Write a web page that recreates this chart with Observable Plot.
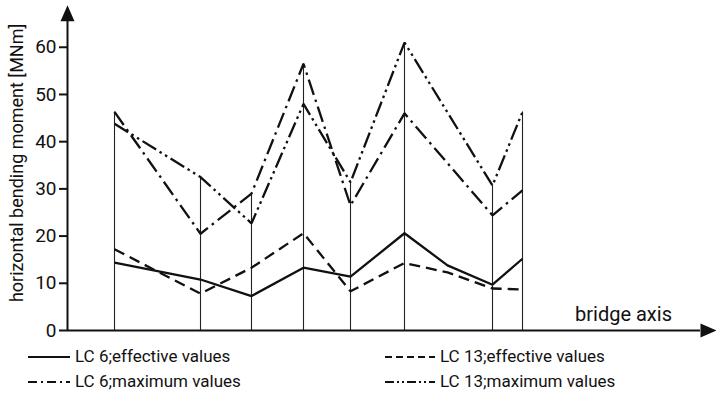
<!DOCTYPE html>
<html>
<head>
<meta charset="utf-8">
<script src="https://cdn.jsdelivr.net/npm/d3@7"></script>
<script src="https://cdn.jsdelivr.net/npm/@observablehq/plot@0.6"></script>
<style>
  html, body { margin: 0; padding: 0; background: #fff; }
  body { width: 716px; height: 398px; overflow: hidden; font-family: Roboto, "DejaVu Sans", sans-serif; }
  #legend { position: relative; height: 58px; font-size: 17px; color: #111; }
  .item { position: absolute; display: flex; align-items: center; }
  .item svg { margin-right: 5px; }
</style>
</head>
<body>
<div id="chart"></div>
<div id="legend"></div>
<script>
// positions along the bridge axis (arbitrary units)
const stations = [47, 133, 184, 236, 283, 337, 380, 425, 455];
const piers    = [47, 133, 184, 236, 283, 337, 425, 455];
// horizontal bending moment [MNm]
const lc6Effective  = [14.4, 10.8, 7.3, 13.3, 11.4, 20.6, 13.8, 9.7, 15.2];
const lc13Effective = [17.2, 7.8, 13.3, 20.6, 8.3, 14.3, 12.3, 8.9, 8.7];
const lc6Maximum    = [46.3, 20.5, 29.0, 56.5, 26.5, 46.0, null, 24.4, 29.7];
const lc13Maximum   = [43.8, 32.5, 22.7, 48.0, 31.4, 61.0, null, 30.7, 46.3];
const yTicks = [0, 10, 20, 30, 40, 50, 60];
const seriesNames = ["LC 6;effective values", "LC 13;effective values", "LC 6;maximum values", "LC 13;maximum values"];
const dashes = [null, "11,6", "16,5,2.5,5", "16,4,2.5,4,2.5,4"];
const legendDashes = [null, "7,4", "9,4,2,4", "9,3,2,3,2,3"];

const allSeries = [lc6Effective, lc13Effective, lc6Maximum, lc13Maximum];
const rows = [];
allSeries.forEach((vals, i) => {
  vals.forEach((v, j) => { if (v != null) rows.push({series: seriesNames[i], x: stations[j], y: v}); });
});
const pierRows = piers.map(p => {
  const j = stations.indexOf(p);
  return {x: p, top: d3.max(allSeries, s => s[j])};
});

const arrowSym = { draw(ctx) { ctx.moveTo(0, -16); ctx.lineTo(7, 0); ctx.lineTo(-7, 0); ctx.closePath(); } };
const font = 'Roboto, "DejaVu Sans", sans-serif';

const plot = Plot.plot({
  width: 716, height: 340,
  marginLeft: 67, marginRight: 2, marginTop: 9, marginBottom: 10,
  style: { fontFamily: font, background: "#fff", overflow: "visible", color: "#111" },
  x: { type: "linear", domain: [0, 647], axis: null },
  y: { type: "linear", domain: [0, 68], axis: null },
  marks: [
    Plot.ruleX(pierRows, { x: "x", y1: 0, y2: "top", stroke: "#222", strokeWidth: 1.1 }),
    ...seriesNames.map((name, i) => Plot.line(rows.filter(r => r.series === name), {
      x: "x", y: "y", stroke: "#111", strokeWidth: 2.3,
      strokeDasharray: dashes[i], strokeLinejoin: "miter", strokeLinecap: "butt"
    })),
    Plot.axisY({ ticks: yTicks, tickSize: 8, tickPadding: 3, fontSize: 19, label: null, strokeWidth: 2 }),
    Plot.ruleX([0], { y1: 0, y2: 65.5, stroke: "#111", strokeWidth: 2 }),
    Plot.ruleY([0], { x1: 0, x2: 633, stroke: "#111", strokeWidth: 2.2 }),
    Plot.dot([0], { x: 0, y: 65.5, symbol: arrowSym, fill: "#111", stroke: null, r: 5 }),
    Plot.dot([0], { x: 633, y: 0, symbol: arrowSym, fill: "#111", stroke: null, r: 5, rotate: 90 }),
    Plot.text(["bridge axis"], { x: 556, y: 2, text: d => d, fontSize: 20, fill: "#111", textAnchor: "middle", lineAnchor: "bottom", style: "letter-spacing:1px" }),
    Plot.text(["horizontal bending moment [MNm]"], { x: 0, y: 35.5, dx: -50, rotate: -90, text: d => d, fontSize: 18, fill: "#111" })
  ]
});
document.getElementById("chart").appendChild(plot);

const legend = document.getElementById("legend");
const pos = [[28, 8], [385, 8], [28, 33], [385, 33]];
seriesNames.forEach((name, i) => {
  const d = document.createElement("div");
  d.className = "item";
  d.style.left = pos[i][0] + "px"; d.style.top = (pos[i][1] - 2) + "px";
  const w = i % 2 === 0 ? 42 : 50;
  d.innerHTML = `<svg width="${w}" height="20"><line x1="0" x2="${w}" y1="11" y2="11" stroke="#111" stroke-width="2.2" ${legendDashes[i] ? `stroke-dasharray="${legendDashes[i]}"` : ""}/></svg><span>${name}</span>`;
  legend.appendChild(d);
});
</script>
</body>
</html>
